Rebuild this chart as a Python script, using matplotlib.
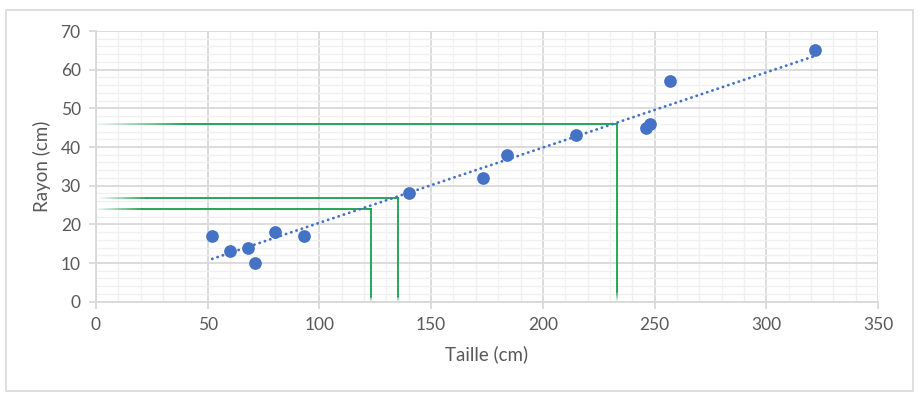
import numpy as np
import matplotlib
matplotlib.use('Agg')
import matplotlib.pyplot as plt
from matplotlib.collections import LineCollection
from matplotlib.patches import Rectangle
from matplotlib.ticker import MultipleLocator

# data
taille = [52, 60, 68, 71, 80, 93, 140, 173, 184, 215, 246, 248, 257, 322]
rayon = [17, 13, 14, 10, 18, 17, 28, 32, 38, 43, 45, 46, 57, 65]
# green reading lines (taille, rayon)
guide_taille = [123, 135, 233]
guide_rayon = [24.1, 26.7, 45.9]

plt.rcParams['font.family'] = ['Lato', 'DejaVu Sans']
txt = '#595959'
grid_major = '#d9d9d9'
grid_minor = '#f0f0f0'
blue = '#4472c4'
green = '#16a04e'


def fading_line(ax, p_start, p_end, fade=0.12, n=30, lw=1.3):
    # solid line from p_end back towards p_start, fading out near p_start
    p0 = np.array(p_start, float)
    p1 = np.array(p_end, float)
    cut = p0 + (p1 - p0) * fade
    ax.plot([cut[0], p1[0]], [cut[1], p1[1]], color=green, lw=lw, zorder=3)
    t = np.linspace(0, 1, n + 1)
    pts = p0[None, :] + (cut - p0)[None, :] * t[:, None]
    segs = [[pts[i], pts[i + 1]] for i in range(n)]
    alphas = np.linspace(0.0, 1.0, n)
    cols = [matplotlib.colors.to_rgba(green, a) for a in alphas]
    ax.add_collection(LineCollection(segs, colors=cols, linewidths=lw, zorder=3))


fig = plt.figure(figsize=(9.2, 3.99), dpi=100)
fig.patches.append(Rectangle((6 / 920, 8 / 399), 907 / 920, 381 / 399,
                             transform=fig.transFigure, fill=False,
                             edgecolor=grid_major, lw=1.2))
ax = fig.add_axes([96 / 920, 97.3 / 399, 782 / 920, 270.7 / 399])

ax.set_xlim(0, 350)
ax.set_ylim(0, 70)
ax.xaxis.set_major_locator(MultipleLocator(50))
ax.xaxis.set_minor_locator(MultipleLocator(10))
ax.yaxis.set_major_locator(MultipleLocator(10))
ax.yaxis.set_minor_locator(MultipleLocator(2))
ax.grid(which='minor', color=grid_minor, lw=1.0, zorder=0)
ax.grid(which='major', color=grid_major, lw=1.3, zorder=1)
ax.set_axisbelow(True)

for s in ['top', 'right']:
    ax.spines[s].set_visible(False)
for s in ['left', 'bottom']:
    ax.spines[s].set_color(grid_major)
    ax.spines[s].set_linewidth(1.3)
ax.tick_params(which='major', length=5, width=1.3, color=grid_major,
               labelcolor=txt, labelsize=12.5)
ax.tick_params(axis='y', pad=6)
ax.tick_params(axis='x', pad=6)
ax.tick_params(which='minor', length=0)

# linear trendline
m, b = np.polyfit(taille, rayon, 1)
xs = np.array([min(taille), max(taille)])
ax.plot(xs, m * xs + b, color=blue, lw=2.0, linestyle=(0, (0.1, 1.9)),
        dash_capstyle='round', zorder=4)

# reading guides
for gx, gy in zip(guide_taille, guide_rayon):
    fading_line(ax, (0, gy), (gx, gy), fade=0.17)
    fading_line(ax, (gx, 0), (gx, gy), fade=0.06)

ax.scatter(taille, rayon, s=84, color=blue, zorder=5, linewidths=0)

ax.set_xlabel('Taille (cm)', color=txt, fontsize=13.5, labelpad=9)
ax.set_ylabel('Rayon (cm)', color=txt, fontsize=13.5, labelpad=7)

fig.savefig('out.png', dpi=100)
